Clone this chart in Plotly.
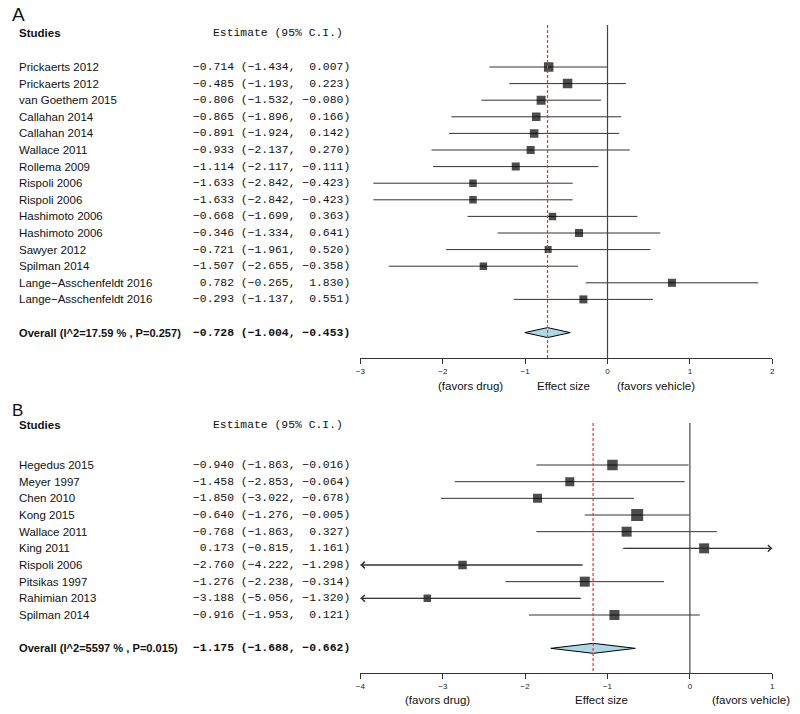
import plotly.graph_objects as go

# ---------------- data ----------------
studies_a = ["Prickaerts 2012", "Prickaerts 2012", "van Goethem 2015", "Callahan 2014",
             "Callahan 2014", "Wallace 2011", "Rollema 2009", "Rispoli 2006", "Rispoli 2006",
             "Hashimoto 2006", "Hashimoto 2006", "Sawyer 2012", "Spilman 2014",
             "Lange\u2212Asschenfeldt 2016", "Lange\u2212Asschenfeldt 2016"]
est_a = [-0.714, -0.485, -0.806, -0.865, -0.891, -0.933, -1.114, -1.633, -1.633,
         -0.668, -0.346, -0.721, -1.507, 0.782, -0.293]
lo_a = [-1.434, -1.193, -1.532, -1.896, -1.924, -2.137, -2.117, -2.842, -2.842,
        -1.699, -1.334, -1.961, -2.655, -0.265, -1.137]
hi_a = [0.007, 0.223, -0.080, 0.166, 0.142, 0.270, -0.111, -0.423, -0.423,
        0.363, 0.641, 0.520, -0.358, 1.830, 0.551]
overall_a = [-0.728, -1.004, -0.453]
overall_label_a = "Overall (I^2=17.59 % , P=0.257)"
ticks_a = [-3, -2, -1, 0, 1, 2]

studies_b = ["Hegedus 2015", "Meyer 1997", "Chen 2010", "Kong 2015", "Wallace 2011",
             "King 2011", "Rispoli 2006", "Pitsikas 1997", "Rahimian 2013", "Spilman 2014"]
est_b = [-0.940, -1.458, -1.850, -0.640, -0.768, 0.173, -2.760, -1.276, -3.188, -0.916]
lo_b = [-1.863, -2.853, -3.022, -1.276, -1.863, -0.815, -4.222, -2.238, -5.056, -1.953]
hi_b = [-0.016, -0.064, -0.678, -0.005, 0.327, 1.161, -1.298, -0.314, -1.320, 0.121]
overall_b = [-1.175, -1.688, -0.662]
overall_label_b = "Overall (I^2=5597 % , P=0.015)"
ticks_b = [-4, -3, -2, -1, 0, 1]

# marker sizes (style, px)
sq_a = [9.5, 9.5, 9, 8.5, 8.5, 8, 8, 7.5, 7.5, 7.5, 8, 7, 7.5, 8, 8]
sq_b = [10.5, 9, 9, 12, 10, 10, 8.5, 10, 7.5, 10]

W, H = 800, 714
SANS = "Liberation Sans, Arial, sans-serif"
MONO = "Liberation Mono, Courier New, monospace"
LINE = "#333333"
TXT = "#111111"


def fmt(e, l, h):
    s = f"{e:6.3f} ({l:6.3f}, {h:6.3f})"
    return s.replace("-", "\u2212").replace(" ", "\u00a0")


def py(px):
    return 1 - px / H


fig = go.Figure()
annotations = []
shapes = []


def panel(idx, letter, studies, est, lo, hi, overall, overall_label, ticks,
          sizes, xdom_px, ydom_px, yrange, overall_y, header_px, letter_px,
          letter_size, axlab_px, axlab_x):
    xa = "x" if idx == 1 else f"x{idx}"
    ya = "y" if idx == 1 else f"y{idx}"
    rows = list(range(1, len(studies) + 1))
    xmin, xmax = ticks[0], ticks[-1]

    # CI lines
    xs, ys = [], []
    for r, l, h in zip(rows, lo, hi):
        xs += [l, h, None]
        ys += [r, r, None]
    fig.add_trace(go.Scatter(x=xs, y=ys, mode="lines", line=dict(color=LINE, width=1),
                             xaxis=xa, yaxis=ya, hoverinfo="skip", showlegend=False))
    # squares
    fig.add_trace(go.Scatter(x=est, y=rows, mode="markers",
                             marker=dict(symbol="square", size=sizes, color="black",
                                         line=dict(width=0)),
                             xaxis=xa, yaxis=ya, showlegend=False))
    # diamond
    e, l, h = overall
    dh = 0.3
    fig.add_trace(go.Scatter(x=[l, e, h, e, l], y=[overall_y, overall_y - dh, overall_y,
                                                   overall_y + dh, overall_y],
                             mode="lines", fill="toself", fillcolor="#add8e6",
                             line=dict(color="black", width=1),
                             xaxis=xa, yaxis=ya, showlegend=False, hoverinfo="skip"))
    # arrows for truncated CIs
    for r, es, l_, h_ in zip(rows, est, lo, hi):
        if l_ < xmin:
            annotations.append(dict(x=xmin, y=r, ax=min(h_, xmax), ay=r, xref=xa, yref=ya,
                                    axref=xa, ayref=ya, text="", showarrow=True,
                                    arrowhead=4, arrowsize=1.3, arrowwidth=1,
                                    arrowcolor=LINE, standoff=0, startstandoff=0))
        if h_ > xmax:
            annotations.append(dict(x=xmax, y=r, ax=max(l_, xmin), ay=r, xref=xa, yref=ya,
                                    axref=xa, ayref=ya, text="", showarrow=True,
                                    arrowhead=4, arrowsize=1.3, arrowwidth=1,
                                    arrowcolor=LINE, standoff=0, startstandoff=0))
    # vertical lines
    shapes.append(dict(type="line", xref=xa, yref=ya, x0=0, x1=0, y0=yrange[1], y1=yrange[0],
                       line=dict(color="#444444", width=1.2)))
    shapes.append(dict(type="line", xref=xa, yref=ya, x0=e, x1=e, y0=yrange[1], y1=yrange[0],
                       line=dict(color="#f03030", width=1.2, dash="3px,2px")))

    # text columns
    for r, s, es, l_, h_ in zip(rows, studies, est, lo, hi):
        annotations.append(dict(x=12 / W, y=r, xref="paper", yref=ya, text=s, showarrow=False,
                                xanchor="left", yanchor="middle",
                                font=dict(family=SANS, size=11.5, color=TXT)))
        annotations.append(dict(x=188 / W, y=r, xref="paper", yref=ya, text=fmt(es, l_, h_),
                                showarrow=False, xanchor="left", yanchor="middle",
                                font=dict(family=MONO, size=11.4, color=TXT)))
    annotations.append(dict(x=12 / W, y=overall_y, xref="paper", yref=ya,
                            text=f"<b>{overall_label}</b>", showarrow=False, xanchor="left",
                            yanchor="middle", font=dict(family=SANS, size=11.1, color=TXT)))
    annotations.append(dict(x=188 / W, y=overall_y, xref="paper", yref=ya,
                            text=f"<b>{fmt(e, l, h)}</b>", showarrow=False, xanchor="left",
                            yanchor="middle", font=dict(family=MONO, size=11.4, color=TXT)))
    # headers
    annotations.append(dict(x=12 / W, y=py(header_px), xref="paper", yref="paper",
                            text="<b>Studies</b>", showarrow=False, xanchor="left",
                            yanchor="middle", font=dict(family=SANS, size=11.5, color=TXT)))
    annotations.append(dict(x=208 / W, y=py(header_px), xref="paper", yref="paper",
                            text="Estimate\u00a0(95%\u00a0C.I.)", showarrow=False, xanchor="left",
                            yanchor="middle", font=dict(family=MONO, size=11.4, color=TXT)))
    annotations.append(dict(x=5 / W, y=py(letter_px), xref="paper", yref="paper",
                            text=letter, showarrow=False, xanchor="left", yanchor="middle",
                            font=dict(family=SANS, size=letter_size, color=TXT)))
    # axis labels
    for txt, xc in zip(["(favors drug)", "Effect size", "(favors vehicle)"], axlab_x):
        annotations.append(dict(x=xc / W, y=py(axlab_px), xref="paper", yref="paper",
                                text=txt, showarrow=False, xanchor="center", yanchor="middle",
                                font=dict(family=SANS, size=11.5, color=TXT)))

    xkey = "xaxis" if idx == 1 else f"xaxis{idx}"
    ykey = "yaxis" if idx == 1 else f"yaxis{idx}"
    fig.update_layout(**{
        xkey: dict(domain=[xdom_px[0] / W, xdom_px[1] / W], range=[xmin, xmax],
                   anchor=ya, tickvals=ticks, showline=True, linecolor=LINE, linewidth=1,
                   ticks="outside", ticklen=5, tickcolor=LINE, tickwidth=1,
                   showgrid=False, zeroline=False, fixedrange=True,
                   tickfont=dict(family=SANS, size=8, color="#222222")),
        ykey: dict(domain=[py(ydom_px[1]), py(ydom_px[0])], range=yrange, anchor=xa,
                   visible=False, showgrid=False, zeroline=False, fixedrange=True),
    })


panel(1, "A", studies_a, est_a, lo_a, hi_a, overall_a, overall_label_a, ticks_a, sq_a,
      xdom_px=(359, 775), ydom_px=(25, 358), yrange=[18.53, -1.53], overall_y=17,
      header_px=33, letter_px=14, letter_size=19, axlab_px=386, axlab_x=(470, 564, 658))
panel(2, "B", studies_b, est_b, lo_b, hi_b, overall_b, overall_label_b, ticks_b, sq_b,
      xdom_px=(359, 775), ydom_px=(423, 673), yrange=[13.48, -1.52], overall_y=12,
      header_px=425, letter_px=411, letter_size=17, axlab_px=700, axlab_x=(437, 603, 754))

fig.update_layout(width=W, height=H, margin=dict(l=0, r=0, t=0, b=0),
                  paper_bgcolor="white", plot_bgcolor="white", showlegend=False,
                  annotations=annotations, shapes=shapes)

fig.write_html("out.html", config={"displayModeBar": False},
               post_script="document.body.style.margin='0px';")
